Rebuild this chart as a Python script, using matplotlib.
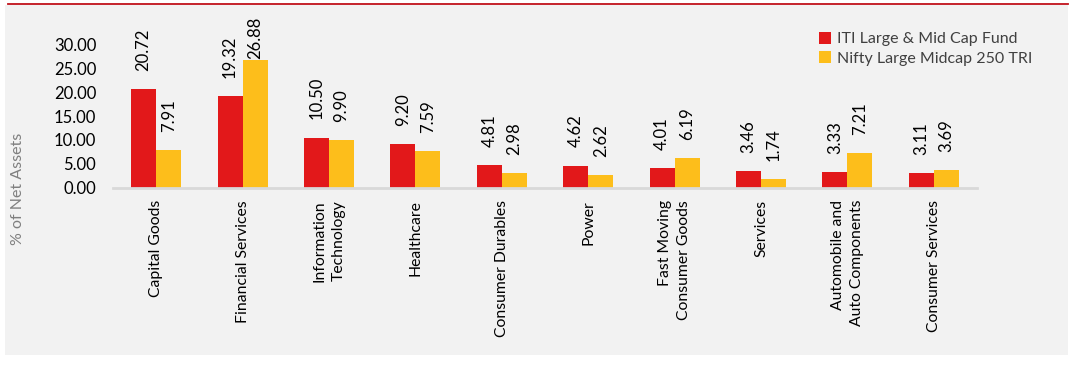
import matplotlib
matplotlib.use("Agg")
import matplotlib.pyplot as plt
import numpy as np
from matplotlib.patches import Rectangle
from matplotlib.lines import Line2D

categories = ["Capital Goods", "Financial Services", "Information\nTechnology", "Healthcare",
              "Consumer Durables", "Power", "Fast Moving\nConsumer Goods", "Services",
              "Automobile and\nAuto Components", "Consumer Services"]
fund_values = [20.72, 19.32, 10.50, 9.20, 4.81, 4.62, 4.01, 3.46, 3.33, 3.11]
index_values = [7.91, 26.88, 9.90, 7.59, 2.98, 2.62, 6.19, 1.74, 7.21, 3.69]
series_names = ["ITI Large & Mid Cap Fund", "Nifty Large Midcap 250 TRI"]
yticks = [0, 5, 10, 15, 20, 25, 30]

RED = "#E2181A"
YEL = "#FDBE1B"
FONT = "Lato"
plt.rcParams["font.family"] = [FONT, "DejaVu Sans"]

W, H = 1073, 376
fig = plt.figure(figsize=(W / 100, H / 100), dpi=100)
fig.patch.set_facecolor("white")
# gray panel and top red line
fig.add_artist(Rectangle((5 / W, 1 - 355 / H), 1063 / W, 350 / H, transform=fig.transFigure,
                         facecolor="#F2F2F2", edgecolor="none", zorder=0))
fig.add_artist(Line2D([8 / W, 1068 / W], [1 - 4 / H, 1 - 4 / H], transform=fig.transFigure,
                      color="#C0111A", lw=1.3, zorder=1))

ax = fig.add_axes([113 / W, 1 - 187.5 / H, 864 / W, 166.5 / H])
ax.set_facecolor("none")
x = np.arange(len(categories))
bw = 0.29
b1 = ax.bar(x - bw / 2, fund_values, bw, color=RED, label=series_names[0], zorder=2)
b2 = ax.bar(x + bw / 2, index_values, bw, color=YEL, label=series_names[1], zorder=2)

annots = []
for bars, vals in ((b1, fund_values), (b2, index_values)):
    for b, v in zip(bars, vals):
        a = ax.annotate(f"{v:.2f}", (b.get_x() + b.get_width() / 2, v), xytext=(0, 13),
                        textcoords="offset points", rotation=90, ha="center", va="bottom",
                        fontsize=12, color="black")
        annots.append(a)

ax.set_xlim(-0.5, len(categories) - 0.5)
ax.set_ylim(0, 35)
ax.set_yticks(yticks)
ax.set_yticklabels([f"{t:.2f}" for t in yticks], fontsize=12)
ax.set_xticks(x)
ax.set_xticklabels(categories, rotation=90, fontsize=11.3, ha="center", va="top",
                   multialignment="right", linespacing=1.45)
ax.tick_params(axis="both", length=0)
ax.tick_params(axis="x", pad=9)
ax.tick_params(axis="y", pad=12)
for s in ("left", "right", "top"):
    ax.spines[s].set_visible(False)
ax.spines["bottom"].set_color("#D9D9D9")
ax.spines["bottom"].set_linewidth(2)

# keep data labels inside the plot area (like Excel does)
fig.canvas.draw()
renderer = fig.canvas.get_renderer()
top_px = H - 17  # display coords of the upper limit for labels
for a in annots:
    bb = a.get_window_extent(renderer)
    if bb.y1 > top_px:
        shift_pt = (bb.y1 - top_px) * 72 / fig.dpi
        a.xyann = (0, 13 - shift_pt)

fig.text(18 / W, 1 - 189 / H, "% of Net Assets", rotation=90, ha="center", va="center",
         fontsize=11.5, color="#7F7F7F")

fig.legend(handles=[b1, b2], labels=series_names, loc="upper left",
           bbox_to_anchor=(819 / W, 1 - 32 / H), frameon=False, fontsize=11.5,
           handlelength=0.75, handleheight=0.75, handletextpad=0.4, labelspacing=0.3,
           labelcolor="#404040", borderaxespad=0, borderpad=0)

fig.savefig("out.png", dpi=100)
